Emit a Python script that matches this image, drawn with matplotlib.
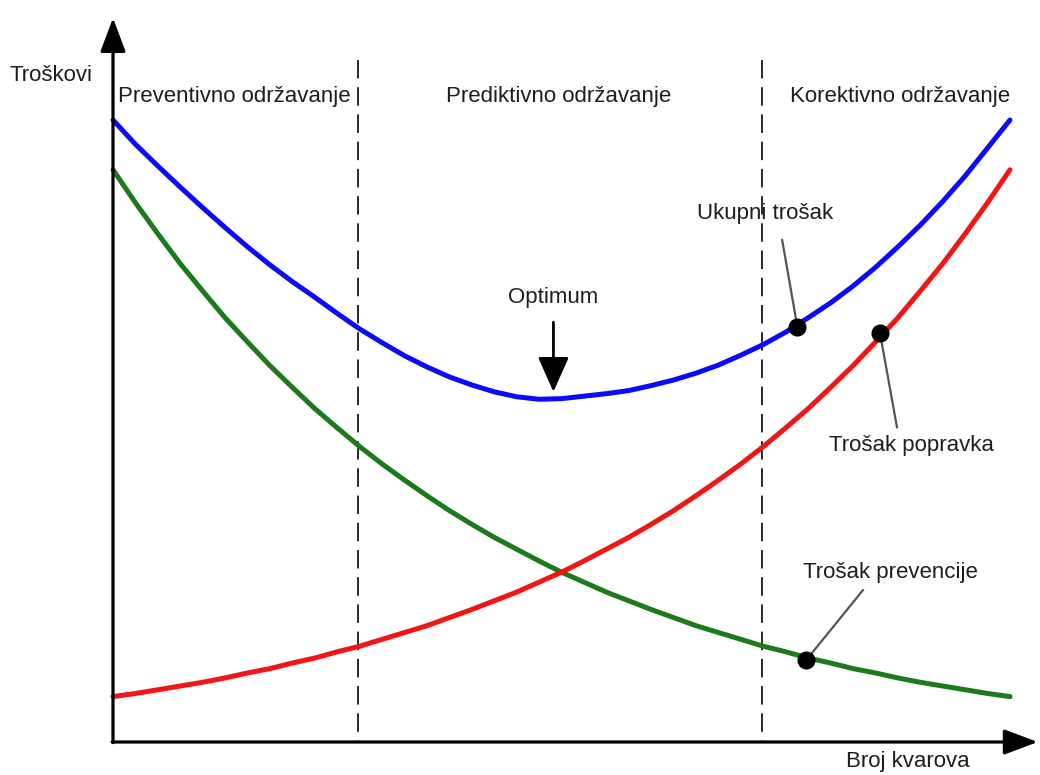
#!/usr/bin/env python3
"""
Script to draw the maintenance cost chart (Troškovi vs. Broj kvarova).

Three cost curves (total, repair, prevention) with the three maintenance
zones marked by dashed lines.
"""

import matplotlib
matplotlib.use("Agg")
import matplotlib.pyplot as plt

# Data
x_values = [0.0, 0.25, 0.5, 0.75, 1.0, 1.25, 1.5, 1.75, 2.0, 2.25,
            2.5, 2.75, 3.0, 3.25, 3.5, 3.75, 4.0, 4.25, 4.5, 4.75,
            5.0, 5.25, 5.5, 5.75, 6.0, 6.25, 6.5, 6.75, 7.0, 7.25,
            7.5, 7.75, 8.0, 8.25, 8.5, 8.75, 9.0, 9.25, 9.5, 9.75, 10.0]

ukupni_trosak = [10.00, 9.61, 9.26, 8.92, 8.59, 8.27, 7.96, 7.67, 7.40, 7.15,
                 6.89, 6.64, 6.42, 6.21, 6.03, 5.87, 5.74, 5.63, 5.55, 5.51,
                 5.52, 5.56, 5.60, 5.65, 5.73, 5.82, 5.93, 6.06, 6.22, 6.39,
                 6.59, 6.82, 7.06, 7.33, 7.63, 7.96, 8.31, 8.69, 9.10, 9.55, 10.00]

trosak_prevencije = [9.20, 8.67, 8.17, 7.69, 7.25, 6.82, 6.43, 6.05, 5.70, 5.36,
                     5.05, 4.75, 4.47, 4.21, 3.96, 3.72, 3.50, 3.29, 3.10, 2.91,
                     2.73, 2.57, 2.41, 2.27, 2.13, 2.00, 1.87, 1.76, 1.65, 1.54,
                     1.45, 1.35, 1.27, 1.18, 1.11, 1.03, 0.96, 0.90, 0.84, 0.78, 0.73]

trosak_popravka = [0.73, 0.78, 0.84, 0.90, 0.96, 1.03, 1.11, 1.18, 1.27, 1.35,
                   1.45, 1.54, 1.65, 1.76, 1.87, 2.00, 2.13, 2.27, 2.41, 2.57,
                   2.73, 2.91, 3.10, 3.29, 3.50, 3.72, 3.96, 4.21, 4.47, 4.75,
                   5.05, 5.36, 5.70, 6.05, 6.43, 6.82, 7.25, 7.69, 8.17, 8.67, 9.20]

# Marked points on the curves: total, repair, prevention
marker_x = [7.63, 8.55, 7.73]
marker_y = [6.67, 6.58, 1.32]

# Zone boundaries
zone_bounds = [2.73, 7.24]
zone_labels = ["Preventivno održavanje", "Prediktivno održavanje", "Korektivno održavanje"]

optimum_x = 4.91

FONT = "Liberation Sans"
TEXT_COLOR = "#1e1e1e"


def draw_axes(ax):
    """Draw the two arrow axes and their labels."""
    arrow = dict(arrowstyle="-|>,head_length=0.8,head_width=0.3", lw=2.3,
                 color="black", shrinkA=0, shrinkB=0, mutation_scale=26)
    ax.annotate("", xy=(0, 11.64), xytext=(0, -0.01), arrowprops=arrow)
    ax.annotate("", xy=(10.31, 0), xytext=(-0.01, 0), arrowprops=arrow)

    ax.text(-1.15, 10.72, "Troškovi", fontsize=16, family=FONT,
            color=TEXT_COLOR, ha="left", va="center")
    ax.text(8.86, -0.32, "Broj kvarova", fontsize=16, family=FONT,
            color=TEXT_COLOR, ha="center", va="center")


def draw_zones(ax):
    """Draw the dashed zone boundaries and the zone titles."""
    for xb in zone_bounds:
        # drawn top-down so the pattern starts with a full dash at the top
        ax.plot([xb, xb], [10.96, 0], color="#2a2a2a", lw=1.4,
                linestyle=(0, (9.5, 4.5)), zorder=1)

    ax.text(0.06, 10.37, zone_labels[0], fontsize=16, family=FONT,
            color=TEXT_COLOR, ha="left", va="center")
    ax.text(4.97, 10.37, zone_labels[1], fontsize=16, family=FONT,
            color=TEXT_COLOR, ha="center", va="center")
    ax.text(7.55, 10.37, zone_labels[2], fontsize=16, family=FONT,
            color=TEXT_COLOR, ha="left", va="center")


def draw_curves(ax):
    """Draw the three cost curves and their marked points."""
    style = dict(lw=3.6, solid_capstyle="round", solid_joinstyle="round", zorder=3)
    ax.plot(x_values, trosak_prevencije, color="#1c7a1c", **style)
    ax.plot(x_values, trosak_popravka, color="#f41414", **style)
    ax.plot(x_values, ukupni_trosak, color="#0a0aff", **style)

    ax.plot(marker_x, marker_y, "o", color="black", markersize=12, zorder=5)


def draw_annotations(ax):
    """Draw the curve labels with leader lines and the optimum arrow."""
    leader = dict(color="#555555", lw=1.6, zorder=4)
    ax.plot([7.46, marker_x[0]], [8.07, marker_y[0]], **leader)
    ax.plot([8.74, marker_x[1]], [5.06, marker_y[1]], **leader)
    ax.plot([8.36, marker_x[2]], [2.44, marker_y[2]], **leader)

    ax.text(7.27, 8.50, "Ukupni trošak", fontsize=16, family=FONT,
            color=TEXT_COLOR, ha="center", va="center")
    ax.text(8.90, 4.77, "Trošak popravka", fontsize=16, family=FONT,
            color=TEXT_COLOR, ha="center", va="center")
    ax.text(8.67, 2.72, "Trošak prevencije", fontsize=16, family=FONT,
            color=TEXT_COLOR, ha="center", va="center")

    ax.text(optimum_x, 7.14, "Optimum", fontsize=16, family=FONT,
            color=TEXT_COLOR, ha="center", va="center")
    ax.annotate("", xy=(optimum_x, 5.63), xytext=(optimum_x, 6.75),
                arrowprops=dict(arrowstyle="-|>,head_length=0.9,head_width=0.4",
                                lw=2.0, color="black", shrinkA=0, shrinkB=0,
                                mutation_scale=24))


def main():
    """Main function."""
    fig = plt.figure(figsize=(10.4, 7.75), dpi=100)
    ax = fig.add_axes([0, 0, 1, 1])
    ax.set_xlim(-1.2598, 10.3344)
    ax.set_ylim(-0.5305, 11.929)
    ax.axis("off")

    draw_zones(ax)
    draw_curves(ax)
    draw_axes(ax)
    draw_annotations(ax)

    fig.savefig("out.png", dpi=100, facecolor="white")
    plt.close(fig)


if __name__ == "__main__":
    main()
